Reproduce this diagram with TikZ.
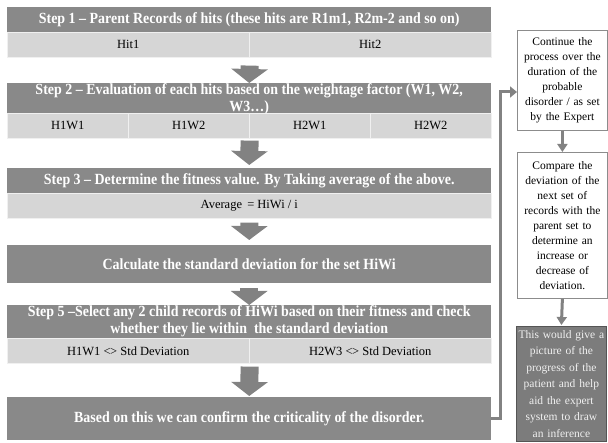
\documentclass[tikz,border=0pt]{standalone}
\usepackage{fontspec}
\setmainfont{Liberation Serif}[Ligatures=TeX]
\newfontfamily\hdrfont{Liberation Serif}[FakeStretch=0.9,Ligatures=TeX]
\usetikzlibrary{arrows.meta,calc}
\definecolor{hdrgray}{HTML}{898989}
\definecolor{rowgray}{HTML}{D6D6D6}
\definecolor{arrgray}{HTML}{828282}
\definecolor{boxline}{HTML}{8C8C8C}
\definecolor{darkbox}{HTML}{7C7C7C}
\definecolor{darkline}{HTML}{555555}
\begin{document}
\begin{tikzpicture}[x=1pt,y=-1pt,
  hdr/.style={fill=hdrgray, text=white, anchor=north west, minimum width=484pt,
    inner sep=0pt, align=center, font=\hdrfont\bfseries\fontsize{15.5}{17}\selectfont},
  cell/.style={fill=rowgray, draw=white!88!gray, line width=0.6pt, anchor=north west,
    minimum height=25pt, inner sep=0pt, font=\fontsize{12.5}{14}\selectfont},
  bigarr/.style={draw=arrgray, line width=18pt,
    -{Triangle[length=14pt,width=36pt]}},
  rbox/.style={draw=boxline, line width=0.8pt, fill=white, anchor=north west,
    minimum width=90pt, text width=88pt, inner sep=0pt, align=center,
    font=\fontsize{11.5}{15}\selectfont},
  smallarr/.style={draw=arrgray, line width=3pt, -{Triangle[length=8pt,width=10pt]}},
  conn/.style={draw=arrgray, line width=3pt, -{Triangle[length=7pt,width=11pt]}}
]
\useasboundingbox (0,0) rectangle (608,443);

% Step 1
\node[hdr, minimum height=25pt] (s1) at (7,7)
  {Step 1 – Parent Records of hits (these hits are R1m1, R2m-2 and so on)};
\node[cell, minimum width=242pt] (h1) at (7,32) {Hit1};
\node[cell, minimum width=242pt] (h2) at (249,32) {Hit2};

% Step 2
\node[hdr, minimum height=30pt] (s2) at (7,83)
  {Step 2 – Evaluation of each hits based on the weightage factor (W1, W2,\\ W3\ldots)};
\node[cell, minimum width=121pt] (c1) at (7,113) {H1W1};
\node[cell, minimum width=121pt] (c2) at (128,113) {H1W2};
\node[cell, minimum width=121pt] (c3) at (249,113) {H2W1};
\node[cell, minimum width=121pt] (c4) at (370,113) {H2W2};

% Step 3
\node[hdr, minimum height=25pt] (s3) at (7,168)
  {Step 3 – Determine the fitness value. By Taking average of the above.};
\node[cell, minimum width=484pt] (av) at (7,193) {Average \,= HiWi / i};

% Step 4
\node[hdr, minimum height=38pt] (s4) at (7,245)
  {Calculate the standard deviation for the set HiWi};

% Step 5
\node[hdr, minimum height=33pt] (s5) at (7,305)
  {Step 5 –Select any 2 child records of HiWi based on their fitness and check\\
   whether they lie within \ the standard deviation};
\node[cell, minimum width=242pt] (d1) at (7,338) {H1W1 \textless\kern-0.5pt\textgreater\ Std Deviation};
\node[cell, minimum width=242pt] (d2) at (249,338) {H2W3 \textless\kern-0.5pt\textgreater\ Std Deviation};

% Final
\node[hdr, minimum height=43pt] (fin) at (7,397)
  {Based on this we can confirm the criticality of the disorder.};

% Big arrows
\draw[bigarr] ([yshift=-8pt]h1.south east) -- (s2.north);
\draw[bigarr] ([yshift=-2pt]c2.south east) -- ([yshift=3pt]s3.north);
\draw[bigarr] ([yshift=-4pt]av.south) -- ([yshift=5pt]s4.north);
\draw[bigarr] ([yshift=-5pt]s4.south) -- (s5.north);
\draw[bigarr] ([yshift=-3pt]d1.south east) -- ([yshift=1pt]fin.north);

% Right column
\node[rbox, minimum height=100pt] (rb1) at (517,30)
  {Continue the\\ process over the\\ duration of the\\ probable\\ disorder / as set\\ by the Expert};
\node[rbox, minimum height=146pt] (rb2) at (517,152)
  {Compare the\\ deviation of the\\ next set of\\ records with the\\ parent set to\\ determine an\\ increase or\\ decrease of\\ deviation.};
\node[rbox, fill=darkbox, draw=darkline, text=white!88!gray, minimum height=115pt,
  font=\fontsize{11.5}{16.5}\selectfont] (rb3) at (516,326)
  {This would give a\\ picture of the\\ progress of the\\ patient and help\\ aid the expert\\ system to draw\\ an inference};

\draw[smallarr] (rb1.south) -- (rb2.north);
\draw[smallarr] (rb2.south) -- ([yshift=1pt]rb3.north);

% Feedback connector
\coordinate (bend) at (500,92);
\draw[conn] (fin.east) -| (bend) -- (rb1.west |- bend);
\end{tikzpicture}
\end{document}
